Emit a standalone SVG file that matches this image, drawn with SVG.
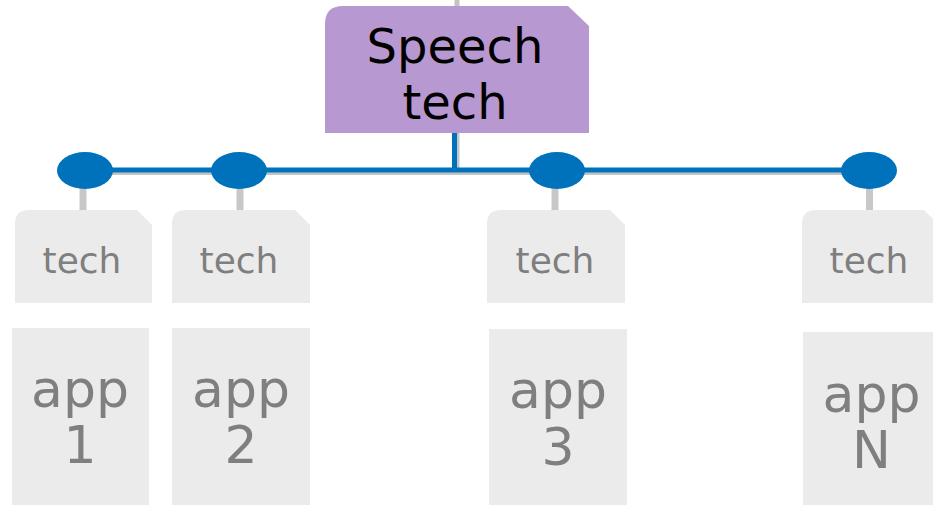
<svg xmlns="http://www.w3.org/2000/svg" width="933" height="505" viewBox="0 0 933 505">
<style>
.tech{fill:#ebebeb}
.app{fill:#ebebeb}
.lbl{font-family:"DejaVu Sans",sans-serif;fill:#7f7f7f;text-anchor:middle}
.t{font-size:36px}
.a{font-size:52px}
.main{font-family:"DejaVu Sans",sans-serif;font-size:48px;fill:#000;text-anchor:middle}
.shadow{stroke:#c4c4c4;stroke-width:5;fill:none}
.blue{stroke:#0072bc;stroke-width:5;fill:none}
.stem{stroke:#c8c8c8;stroke-width:7;fill:none}
.dot{fill:#0072bc}
</style>
<g id="connectors">
  <line class="shadow" x1="457" y1="0" x2="457" y2="8"/>
  <line class="shadow" x1="457" y1="133" x2="457" y2="172"/>
  <line class="shadow" x1="85" y1="172.5" x2="869" y2="172.5"/>
  <line class="blue" x1="454.5" y1="133" x2="454.5" y2="170"/>
  <line class="blue" x1="85" y1="170" x2="869" y2="170"/>
  <line class="stem" x1="83" y1="185" x2="83" y2="211"/>
  <line class="stem" x1="240" y1="185" x2="240" y2="211"/>
  <line class="stem" x1="555" y1="185" x2="555" y2="211"/>
  <line class="stem" x1="869.5" y1="185" x2="869.5" y2="211"/>
  <ellipse class="dot" cx="85" cy="170.5" rx="28" ry="18.5"/>
  <ellipse class="dot" cx="239" cy="170.5" rx="28" ry="18.5"/>
  <ellipse class="dot" cx="557" cy="170.5" rx="28" ry="18.5"/>
  <ellipse class="dot" cx="869" cy="170.5" rx="28" ry="18.5"/>
</g>
<g id="speech">
  <path d="M343 6 H568 L589 26 V133 H325 V24 Q325 6 343 6 Z" fill="#b898d0"/>
  <text class="main" x="455" y="63">Speech</text>
  <text class="main" x="455" y="119">tech</text>
</g>
<g id="tech1">
  <path d="M29 210 H137 L152 225 V303 H15 V224 Q15 210 29 210 Z" class="tech"/>
  <text class="lbl t" x="82" y="273">tech</text>
</g>
<g id="tech2">
  <path d="M186 210 H295 L310 225 V303 H172 V224 Q172 210 186 210 Z" class="tech"/>
  <text class="lbl t" x="239" y="273">tech</text>
</g>
<g id="tech3">
  <path d="M501 210 H610 L625 225 V303 H487 V224 Q487 210 501 210 Z" class="tech"/>
  <text class="lbl t" x="555" y="273">tech</text>
</g>
<g id="tech4">
  <path d="M816 210 H924 L939 225 V303 H802 V224 Q802 210 816 210 Z" class="tech"/>
  <text class="lbl t" x="869" y="273">tech</text>
</g>
<g id="app1">
  <rect class="app" x="12" y="328" width="137" height="177"/>
  <text class="lbl a" x="80" y="407">app</text>
  <text class="lbl a" x="80" y="463">1</text>
</g>
<g id="app2">
  <rect class="app" x="172" y="328" width="138" height="177"/>
  <text class="lbl a" x="241" y="407">app</text>
  <text class="lbl a" x="241" y="463">2</text>
</g>
<g id="app3">
  <rect class="app" x="489" y="329" width="138" height="176"/>
  <text class="lbl a" x="558" y="408">app</text>
  <text class="lbl a" x="558" y="465">3</text>
</g>
<g id="appN">
  <rect class="app" x="803" y="332" width="137" height="173"/>
  <text class="lbl a" x="871.5" y="412">app</text>
  <text class="lbl a" x="871.5" y="468">N</text>
</g>
</svg>
